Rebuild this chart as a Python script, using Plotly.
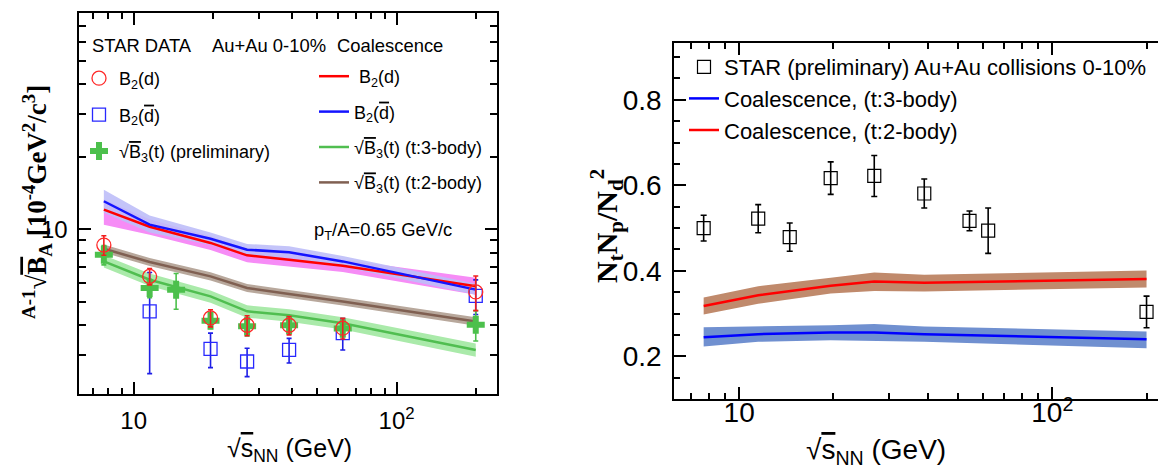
import plotly.graph_objects as go

W, H = 1166, 472


def px(x):
    return x / W


def py(y):
    return 1 - y / H


# ---------------- Left panel: data ----------------
E_b2d = [7.7, 11.5, 19.6, 27, 39, 62.4, 200]
B2_d = [8.6, 6.38, 4.29, 4.0, 4.0, 3.89, 5.5]
B2_d_err = [0.8, 0.5, 0.35, 0.38, 0.35, 0.38, 0.9]

E_b2dbar = [11.5, 19.6, 27, 39, 62.4, 200]
B2_dbar = [4.57, 3.19, 2.83, 3.16, 3.71, 5.3]
B2_dbar_err = [2.05, 0.52, 0.38, 0.37, 0.55, 0.87]

E_b3 = [7.7, 11.5, 14.5, 19.6, 27, 39, 62.4, 200]
B3_t = [7.84, 5.71, 5.61, 4.18, 3.96, 4.0, 3.88, 4.02]
B3_t_err = [0.72, 0.5, 0.95, 0.3, 0.35, 0.3, 0.3, 0.58]

# ---------------- Left panel: coalescence ----------------
E_model = [7.7, 11.5, 19.6, 27, 39, 62.4, 200]
m_b2d = [12.06, 10.25, 8.78, 7.8, 7.48, 7.06, 5.8]
m_b2d_lo = [10.45, 9.5, 8.2, 7.3, 7.0, 6.65, 5.35]
m_b2d_hi = [13.3, 11.0, 9.35, 8.3, 7.95, 7.5, 6.3]
m_b2dbar = [13.07, 10.45, 9.14, 8.23, 8.03, 7.36, 5.62]
m_b2dbar_lo = [11.7, 9.7, 8.6, 7.8, 7.6, 7.0, 5.35]
m_b2dbar_hi = [14.6, 11.4, 9.7, 8.7, 8.5, 7.75, 5.95]
m_b3_3body = [7.36, 6.18, 5.27, 4.57, 4.4, 4.08, 3.16]
m_b3_3body_lo = [6.95, 5.82, 4.96, 4.3, 4.14, 3.84, 2.96]
m_b3_3body_hi = [7.8, 6.55, 5.58, 4.84, 4.66, 4.32, 3.36]
m_b3_2body = [8.3, 7.32, 6.38, 5.71, 5.39, 5.02, 4.15]
m_b3_2body_lo = [8.0, 7.04, 6.13, 5.49, 5.18, 4.83, 3.98]
m_b3_2body_hi = [8.65, 7.6, 6.63, 5.93, 5.6, 5.21, 4.32]

# ---------------- Right panel ----------------
E_ratio = [7.7, 11.5, 14.5, 19.6, 27, 39, 54.4, 62.4, 200]
ratio = [0.500, 0.522, 0.479, 0.617, 0.622, 0.581, 0.517, 0.494, 0.304]
ratio_err = [0.030, 0.033, 0.033, 0.038, 0.048, 0.034, 0.023, 0.053, 0.037]

E_coal = [7.7, 11.5, 19.6, 27, 39, 200]
coal_2body = [0.318, 0.343, 0.365, 0.375, 0.372, 0.381]
coal_2body_lo = [0.298, 0.323, 0.347, 0.353, 0.352, 0.361]
coal_2body_hi = [0.338, 0.364, 0.384, 0.396, 0.391, 0.401]
coal_3body = [0.245, 0.252, 0.256, 0.256, 0.252, 0.240]
coal_3body_lo = [0.223, 0.234, 0.238, 0.236, 0.234, 0.219]
coal_3body_hi = [0.268, 0.270, 0.273, 0.276, 0.270, 0.258]

x_major = [10, 100]
x_major_text = ["10", "10<sup>2</sup>"]
x_minor = [7, 8, 9, 20, 30, 40, 50, 60, 70, 80, 90, 200]
yl_major = [10]
yl_minor = [3, 4, 5, 6, 7, 8, 9, 20, 30, 40, 50, 60, 70]
yr_major = [0.2, 0.4, 0.6, 0.8]

SANS = "Liberation Sans"
SERIF = "Liberation Serif"


def ol(s):
    return "<span style='text-decoration:overline'>" + s + "</span>"


fig = go.Figure()


def band(x, lo, hi, color, xa="x", ya="y"):
    fig.add_trace(go.Scatter(
        x=list(x) + list(x)[::-1], y=list(hi) + list(lo)[::-1],
        fill="toself", fillcolor=color, mode="lines", line=dict(width=0),
        hoverinfo="skip", showlegend=False, xaxis=xa, yaxis=ya))


# left bands
band(E_model, m_b2d_lo, m_b2d_hi, "rgb(246,140,246)")
band(E_model, m_b2dbar_lo, m_b2dbar_hi, "rgba(190,190,248,0.9)")
band(E_model, m_b3_3body_lo, m_b3_3body_hi, "rgb(170,234,170)")
band(E_model, m_b3_2body_lo, m_b3_2body_hi, "rgb(184,168,156)")

# left model lines (legend2)
model_lines = [
    (m_b2d, "rgb(255,0,0)", " B<sub>2</sub>(d)"),
    (m_b2dbar, "rgb(20,20,255)", "B<sub>2</sub>(" + ol("d") + ")"),
    (m_b3_3body, "rgb(80,190,80)", "√" + ol("B") + "<sub>3</sub>(t) (t:3-body)"),
    (m_b3_2body, "rgb(128,96,82)", "√" + ol("B") + "<sub>3</sub>(t) (t:2-body)"),
]
for i, (yv, col, name) in enumerate(model_lines):
    fig.add_trace(go.Scatter(
        x=E_model, y=yv, mode="lines", line=dict(color=col, width=2.5),
        name=name, legend="legend2", legendgroup="m%d" % i, legendrank=i + 1))

# left data (legend)
fig.add_trace(go.Scatter(
    x=E_b2dbar, y=B2_dbar, mode="markers", name="B<sub>2</sub>(" + ol("d") + ")",
    marker=dict(symbol="square-open", size=13, color="rgb(40,40,255)", line=dict(width=1.3)),
    error_y=dict(type="data", array=B2_dbar_err, color="rgb(30,30,230)", thickness=1.6, width=2.5),
    legend="legend", legendgroup="d2", legendrank=2))
fig.add_trace(go.Scatter(
    x=E_b3, y=B3_t, mode="markers", name="√" + ol("B") + "<sub>3</sub>(t) (preliminary)",
    marker=dict(symbol="cross", size=15, color="rgb(76,192,76)", line=dict(width=0)),
    error_y=dict(type="data", array=B3_t_err, color="rgb(76,192,76)", thickness=1.6, width=2.5),
    legend="legend", legendgroup="d3", legendrank=3))
fig.add_trace(go.Scatter(
    x=E_b2d, y=B2_d, mode="markers", name="B<sub>2</sub>(d)",
    marker=dict(symbol="circle-open", size=14, color="rgb(255,40,40)", line=dict(width=1.3)),
    error_y=dict(type="data", array=B2_d_err, color="rgb(240,30,30)", thickness=1.6, width=2.5),
    legend="legend", legendgroup="d1", legendrank=1))

# right bands and lines
band(E_coal, coal_2body_lo, coal_2body_hi, "rgb(192,138,108)", "x2", "y2")
band(E_coal, coal_3body_lo, coal_3body_hi, "rgb(112,144,208)", "x2", "y2")
fig.add_trace(go.Scatter(
    x=E_coal, y=coal_3body, mode="lines", line=dict(color="rgb(0,0,255)", width=2.5),
    name="Coalescence, (t:3-body)", xaxis="x2", yaxis="y2",
    legend="legend3", legendgroup="r2", legendrank=2))
fig.add_trace(go.Scatter(
    x=E_coal, y=coal_2body, mode="lines", line=dict(color="rgb(255,0,0)", width=2.5),
    name="Coalescence, (t:2-body)", xaxis="x2", yaxis="y2",
    legend="legend3", legendgroup="r3", legendrank=3))
fig.add_trace(go.Scatter(
    x=E_ratio, y=ratio, mode="markers", name="STAR (preliminary) Au+Au collisions 0-10%",
    marker=dict(symbol="square-open", size=13, color="black", line=dict(width=1.2)),
    error_y=dict(type="data", array=ratio_err, color="black", thickness=1.6, width=3),
    xaxis="x2", yaxis="y2", legend="legend3", legendgroup="r1", legendrank=1))

axis_common = dict(showline=True, linecolor="black", linewidth=2, mirror="allticks",
                   ticks="inside", tickcolor="black", tickwidth=1.5, showgrid=False,
                   zeroline=False)

fig.update_layout(
    width=W, height=H, margin=dict(l=0, r=0, t=0, b=0),
    paper_bgcolor="white", plot_bgcolor="white",
    font=dict(family=SANS, color="black"),
    xaxis=dict(axis_common, type="log", range=[0.7935, 2.383],
               domain=[px(71.4), px(489.3)], anchor="y",
               tickmode="array", tickvals=x_major, ticktext=x_major_text, ticklen=12,
               tickfont=dict(size=24, family=SANS), ticklabelstandoff=4,
               minor=dict(tickmode="array", tickvals=x_minor, ticks="inside", ticklen=6,
                          tickcolor="black", tickwidth=1.5)),
    yaxis=dict(axis_common, type="log", range=[0.317, 1.897],
               domain=[py(386), py(5)], anchor="x",
               tickmode="array", tickvals=yl_major, ticktext=["10"], ticklen=12,
               tickfont=dict(size=24, family=SANS), ticklabelstandoff=5,
               minor=dict(tickmode="array", tickvals=yl_minor, ticks="inside", ticklen=7,
                          tickcolor="black", tickwidth=1.5)),
    xaxis2=dict(axis_common, type="log", range=[0.7927, 2.383],
                domain=[px(666.3), px(1164.2)], anchor="y2",
                tickmode="array", tickvals=x_major, ticktext=x_major_text, ticklen=12,
                tickfont=dict(size=28, family=SANS), ticklabelstandoff=-12,
                minor=dict(tickmode="array", tickvals=x_minor, ticks="inside", ticklen=6,
                           tickcolor="black", tickwidth=1.5)),
    yaxis2=dict(axis_common, type="linear", range=[0.101, 0.933],
                domain=[py(390.7), py(35)], anchor="x2",
                tickmode="array", tickvals=yr_major, ticktext=["0.2", "0.4", "0.6", "0.8"],
                ticklen=12, tickfont=dict(size=28, family=SANS), ticklabelstandoff=5,
                minor=dict(dtick=0.05, tick0=0, ticks="inside", ticklen=6,
                           tickcolor="black", tickwidth=1.5)),
    legend=dict(x=px(71), y=py(52), xanchor="left", yanchor="top",
                font=dict(size=18, family=SANS), tracegroupgap=10,
                bgcolor="rgba(0,0,0,0)", traceorder="grouped"),
    legend2=dict(x=px(306), y=py(50), xanchor="left", yanchor="top",
                 font=dict(size=18, family=SANS), tracegroupgap=9,
                 bgcolor="rgba(0,0,0,0)", traceorder="grouped"),
    legend3=dict(x=px(676), y=py(38), xanchor="left", yanchor="top",
                 font=dict(size=22, family=SANS), tracegroupgap=0,
                 bgcolor="rgba(0,0,0,0)", traceorder="grouped"),
    showlegend=True,
)

ann = [
    dict(text="STAR DATA", x=px(82), y=py(37), xanchor="left", yanchor="middle",
         font=dict(size=18.4, family=SANS)),
    dict(text="Au+Au 0-10%", x=px(202), y=py(37), xanchor="left", yanchor="middle",
         font=dict(size=18.4, family=SANS)),
    dict(text="Coalescence", x=px(327), y=py(37), xanchor="left", yanchor="middle",
         font=dict(size=18.4, family=SANS)),
    dict(text="p<sub>T</sub>/A=0.65 GeV/c", x=px(304), y=py(223), xanchor="left",
         yanchor="middle", font=dict(size=18.4, family=SANS)),
    dict(text="√" + ol("s") + "<sub>NN</sub> (GeV)", x=px(281), y=py(442),
         xanchor="center", yanchor="middle", font=dict(size=25, family=SANS)),
    dict(text="√" + ol("s") + "<sub>NN</sub> (GeV)", x=px(868), y=py(443),
         xanchor="center", yanchor="middle", font=dict(size=28, family=SANS)),
    dict(text="<sup>A-1</sup>√" + ol("B") + "<sub>A</sub> [10<sup>-4</sup>GeV<sup>2</sup>/c<sup>3</sup>]",
         x=px(29), y=py(194), xanchor="center", yanchor="middle", textangle=-90,
         font=dict(size=27, family=SERIF, weight="bold")),
    dict(text="N<sub>t</sub>N<sub>p</sub>/N<sub>d</sub><sup>2</sup>",
         x=px(598), y=py(218), xanchor="center", yanchor="middle", textangle=-90,
         font=dict(size=30, family=SERIF, weight="bold")),
]
for a in ann:
    a.update(xref="paper", yref="paper", showarrow=False)
fig.update_layout(annotations=ann)

fig.write_html("out.html")
